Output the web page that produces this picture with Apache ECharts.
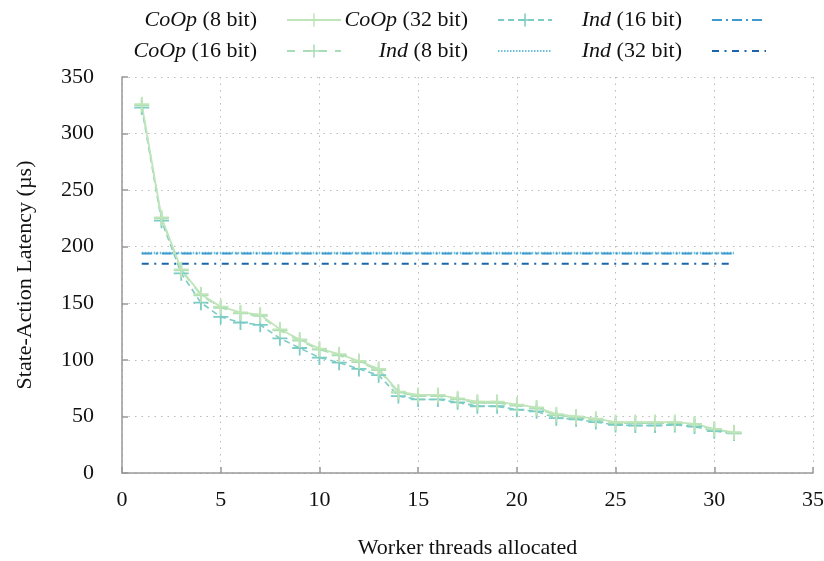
<!DOCTYPE html>
<html>
<head>
    <meta http-equiv="Content-Type" content="text/html; charset=UTF-8">
    <style>
        body { margin: 0; background: #fff; }
    </style>
</head>
<body>

    <div id="lineChart" style="width:824px;height:561px"></div>

    <script type="text/javascript" src="https://cdn.jsdelivr.net/npm/echarts@6/dist/echarts.min.js"></script>
    <script type="text/javascript">
        // worker thread counts
        var threads = [];
        for (var i = 1; i <= 31; i++) {
            threads.push(i);
        }

        var coop8 = [326, 226, 180, 158, 147, 142, 140, 127, 118, 110, 105, 99, 92, 72, 69, 69, 66, 63, 63, 60.5, 58, 52, 50, 48, 45, 45, 45, 45, 43.5, 39, 36];
        var coop16 = [325, 225, 179, 157, 146, 141, 139, 126, 117, 109, 104, 98, 91, 71, 68, 68, 65, 62, 62, 59.5, 57, 51, 49, 47, 44, 44, 44, 44, 43, 38.5, 35.5];
        var coop32 = [323, 223, 176.5, 150.5, 138, 133, 131, 119, 110.5, 102, 97.5, 92, 86.5, 68, 65, 65, 62.5, 59, 59, 56, 54.5, 48.5, 47.5, 45, 42.5, 42, 42, 42.5, 41, 37, 35];
        var ind8 = [194.5, 194.5, 194.5, 194.5, 194.5, 194.5, 194.5, 194.5, 194.5, 194.5, 194.5, 194.5, 194.5, 194.5, 194.5, 194.5, 194.5, 194.5, 194.5, 194.5, 194.5, 194.5, 194.5, 194.5, 194.5, 194.5, 194.5, 194.5, 194.5, 194.5, 194.5];
        var ind16 = [194, 194, 194, 194, 194, 194, 194, 194, 194, 194, 194, 194, 194, 194, 194, 194, 194, 194, 194, 194, 194, 194, 194, 194, 194, 194, 194, 194, 194, 194, 194];
        var ind32 = [185, 185, 185, 185, 185, 185, 185, 185, 185, 185, 185, 185, 185, 185, 185, 185, 185, 185, 185, 185, 185, 185, 185, 185, 185, 185, 185, 185, 185, 185, 185];

        var xTicks = [0, 5, 10, 15, 20, 25, 30, 35];
        var yTicks = [0, 50, 100, 150, 200, 250, 300, 350];

        var FONT = 'Liberation Serif';
        var plus = 'path://M-0.12,-1H0.12V-0.12H1V0.12H0.12V1H-0.12V0.12H-1V-0.12H-0.12Z';

        function pairs(ys) {
            var out = [];
            for (var k = 0; k < ys.length; k++) {
                out.push([threads[k], ys[k]]);
            }
            return out;
        }

        function legendLabel(name) {
            // "CoOp (8 bit)" -> italic first word
            var p = name.indexOf(' ');
            return '{i|' + name.substring(0, p) + '}' + name.substring(p);
        }

        function legendAt(name, right, top, noMark) {
            var lg = {
                data: [name],
                right: right,
                top: top,
                padding: 0,
                align: 'right',
                itemWidth: 54,
                itemHeight: 16,
                formatter: legendLabel,
                textStyle: {
                    fontFamily: FONT,
                    fontSize: 22,
                    color: '#111',
                    padding: [0, 25, 0, 0],
                    rich: {
                        i: { fontFamily: FONT, fontSize: 22, fontStyle: 'italic', color: '#111' }
                    }
                }
            };
            if (noMark) {
                lg.itemStyle = { opacity: 0 };
            }
            return lg;
        }

        var myChart = echarts.init(document.getElementById('lineChart'));
        var option = {
            animation: false,
            backgroundColor: '#fff',
            legend: [
                legendAt('CoOp (8 bit)', 482, 9),
                legendAt('CoOp (16 bit)', 482, 40),
                legendAt('CoOp (32 bit)', 271, 9),
                legendAt('Ind (8 bit)', 271, 40, true),
                legendAt('Ind (16 bit)', 57, 9, true),
                legendAt('Ind (32 bit)', 57, 40, true)
            ],
            grid: {
                left: 122,
                right: 11,
                top: 77,
                bottom: 88,
                outerBoundsMode: 'none'
            },
            xAxis: {
                type: 'value',
                min: xTicks[0],
                max: xTicks[xTicks.length - 1],
                interval: 5,
                name: 'Worker threads allocated',
                nameLocation: 'middle',
                nameGap: 64,
                nameTextStyle: { fontFamily: FONT, fontSize: 22, color: '#111' },
                axisLine: { lineStyle: { color: '#999', width: 1.5 } },
                axisTick: { inside: true, length: 6, lineStyle: { color: '#999', width: 1.5 } },
                axisLabel: { fontFamily: FONT, fontSize: 22, color: '#111', margin: 16 },
                splitLine: { show: true, lineStyle: { color: '#bbb', width: 1, type: [1.5, 5] } }
            },
            yAxis: {
                type: 'value',
                min: yTicks[0],
                max: yTicks[yTicks.length - 1],
                interval: 50,
                name: 'State-Action Latency (µs)',
                nameLocation: 'middle',
                nameGap: 86,
                nameTextStyle: { fontFamily: FONT, fontSize: 22, color: '#111' },
                axisLine: { show: true, lineStyle: { color: '#999', width: 1.5 } },
                axisTick: { show: true, inside: true, length: 6, lineStyle: { color: '#999', width: 1.5 } },
                axisLabel: { fontFamily: FONT, fontSize: 22, color: '#111', margin: 28 },
                splitLine: { show: true, lineStyle: { color: '#bbb', width: 1, type: [1.5, 5] } }
            },
            series: [
                {
                    name: 'Ind (8 bit)',
                    type: 'line',
                    data: pairs(ind8),
                    symbol: 'none',
                    color: '#6fbfdc',
                    lineStyle: { width: 2.5, type: [1.5, 1.5] }
                },
                {
                    name: 'Ind (16 bit)',
                    type: 'line',
                    data: pairs(ind16),
                    symbol: 'none',
                    color: '#3f99cc',
                    lineStyle: { width: 2, type: [10, 4, 2, 4] }
                },
                {
                    name: 'Ind (32 bit)',
                    type: 'line',
                    data: pairs(ind32),
                    symbol: 'none',
                    color: '#1b66aa',
                    lineStyle: { width: 2, type: [7, 5.5, 2, 5.5] }
                },
                {
                    name: 'CoOp (32 bit)',
                    type: 'line',
                    data: pairs(coop32),
                    symbol: plus,
                    symbolSize: 15,
                    color: '#7bccc4',
                    lineStyle: { width: 1.6, type: [6, 4] }
                },
                {
                    name: 'CoOp (16 bit)',
                    type: 'line',
                    data: pairs(coop16),
                    symbol: plus,
                    symbolSize: 15,
                    color: '#a8ddb5',
                    lineStyle: { width: 1.6, type: [8, 8] }
                },
                {
                    name: 'CoOp (8 bit)',
                    type: 'line',
                    data: pairs(coop8),
                    symbol: plus,
                    symbolSize: 15,
                    color: '#bfe5b9',
                    lineStyle: { width: 1.8, type: 'solid' }
                }
            ]
        };
        myChart.setOption(option);
    </script>
</body>
</html>
